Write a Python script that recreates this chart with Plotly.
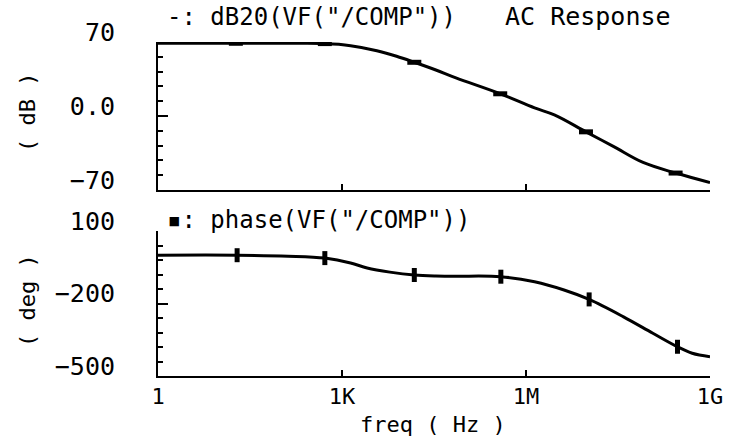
import plotly.graph_objects as go

# ---- data ----
freq_db = [1, 18.6, 132, 525, 1380, 3700, 7760, 15100, 33900, 72000, 380000,
           1.38e6, 2.9e6, 9.5e6, 2.7e7, 8.1e7, 2.75e8, 1e9]
gain_db = [68.8, 68.8, 68.7, 68.5, 66.5, 61.8, 56.5, 50.8, 43.5, 36.0, 21.0,
           7.6, 1.0, -15.0, -29.0, -44.0, -54.0, -63.0]

freq_ph = [1, 19.5, 132, 525, 1380, 2570, 6030, 15100, 33900, 72000, 389000,
           1.38e6, 4.17e6, 1.07e7, 3.89e7, 1.17e8, 2.95e8, 5.13e8, 1e9]
phase_deg = [0, 0, -4, -12, -32, -53, -70, -82, -86, -87, -89,
             -110, -144, -183, -255, -323, -379, -406, -420]

mk_freq_db = [18.6, 525, 15100, 380000, 9.5e6, 2.75e8]
mk_gain_db = [68.8, 68.5, 50.8, 21.0, -15.0, -54.0]
mk_freq_ph = [19.5, 525, 15100, 389000, 1.07e7, 2.95e8]
mk_phase = [0, -12, -82, -89, -183, -379]

x_tickvals = [1, 1e3, 1e6, 1e9]
x_ticktext = ["1", "1K", "1M", "1G"]
db_tickvals = [-70, 0, 70]
db_ticktext = ["\u221270", "0.0", "70"]
ph_tickvals = [-500, -200, 100]
ph_ticktext = ["\u2212500", "\u2212200", "100"]

FONT = "DejaVu Sans Mono"

fig = go.Figure()
fig.add_trace(go.Scatter(x=freq_db, y=gain_db, mode="lines",
                         line=dict(color="black", width=3, shape="spline"),
                         xaxis="x", yaxis="y", showlegend=False))
fig.add_trace(go.Scatter(x=mk_freq_db, y=mk_gain_db, mode="markers",
                         marker=dict(symbol="line-ew", size=10,
                                     line=dict(color="black", width=5)),
                         xaxis="x", yaxis="y", showlegend=False))
fig.add_trace(go.Scatter(x=freq_ph, y=phase_deg, mode="lines",
                         line=dict(color="black", width=3, shape="spline"),
                         xaxis="x2", yaxis="y2", showlegend=False))
fig.add_trace(go.Scatter(x=mk_freq_ph, y=mk_phase, mode="markers",
                         marker=dict(symbol="line-ns", size=10,
                                     line=dict(color="black", width=5)),
                         xaxis="x2", yaxis="y2", showlegend=False))

xcommon = dict(type="log", range=[0, 9], showline=True, linewidth=2,
               linecolor="black", ticks="inside", ticklen=6, tickwidth=2,
               tickcolor="black", showgrid=False, zeroline=False,
               mirror=False)
ycommon = dict(showline=True, linewidth=2, linecolor="black", ticks="inside",
               ticklen=10, tickwidth=2, tickcolor="black", showgrid=False,
               zeroline=False, mirror=False, ticklabelstandoff=36,
               ticklabelshift=-10, tickfont=dict(size=25),
               minor=dict(ticks="inside", ticklen=5, tickwidth=2,
                          tickcolor="black", showgrid=False))

fig.update_layout(
    width=735, height=441,
    margin=dict(l=158, r=17, t=42, b=65),
    paper_bgcolor="white", plot_bgcolor="white",
    font=dict(family=FONT, size=22, color="black"),
    xaxis=dict(**xcommon, anchor="y", tickvals=[1e3, 1e6],
               showticklabels=False),
    yaxis=dict(**ycommon, domain=[0.557, 1], range=[-70, 70],
               tickvals=db_tickvals, ticktext=db_ticktext,
               anchor="x"),
    xaxis2=dict(**xcommon, anchor="y2", tickvals=x_tickvals,
                ticktext=x_ticktext, ticklabelstandoff=0),
    yaxis2=dict(**ycommon, domain=[0, 0.434], range=[-500, 100],
                tickvals=ph_tickvals, ticktext=ph_ticktext,
                anchor="x2"),
)
fig.layout.yaxis.minor.dtick = 14
fig.layout.yaxis.minor.tick0 = 0
fig.layout.yaxis2.minor.dtick = 60
fig.layout.yaxis2.minor.tick0 = 100

ann = [
    dict(text='-: dB20(VF("/COMP"))', x=0.0125, y=1.075, xanchor="left",
         yanchor="middle", font=dict(size=24)),
    dict(text="AC Response", x=0.625, y=1.075, xanchor="left",
         yanchor="middle", font=dict(size=25)),
    dict(text='\u25aa: phase(VF("/COMP"))', x=0.0125, y=0.467,
         xanchor="left", yanchor="middle", font=dict(size=24)),
    dict(text="( dB )", x=-0.2375, y=0.79, textangle=-90,
         xanchor="center", yanchor="middle", font=dict(size=22)),
    dict(text="( deg )", x=-0.2375, y=0.2275, textangle=-90,
         xanchor="center", yanchor="middle", font=dict(size=22)),
    dict(text="freq ( Hz )", x=0.498, y=-0.1467, xanchor="center",
         yanchor="middle", font=dict(size=22)),
]
for a in ann:
    fig.add_annotation(xref="paper", yref="paper", showarrow=False, **a)

fig.write_html("out.html")
